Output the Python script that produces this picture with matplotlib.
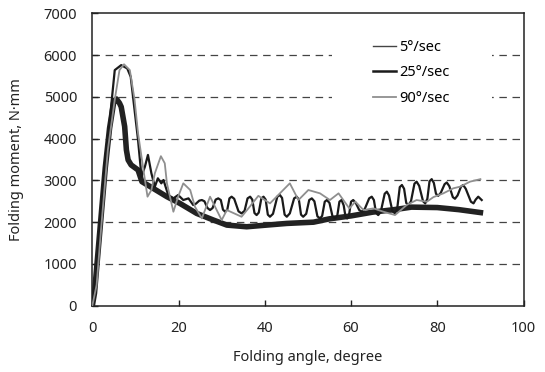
import matplotlib
matplotlib.use("Agg")
import matplotlib.pyplot as plt
from matplotlib.lines import Line2D
from matplotlib.patches import Rectangle

plt.rcParams['font.family'] = ['Noto Sans', 'DejaVu Sans']

# 5 deg/sec (noisy, drawn as a thick band)
x5 = [0, 0.5, 1, 2, 3, 4, 5, 5.6, 6.3, 6.7, 7.5, 7.9, 8.3, 9.0, 10.6, 11.5, 14.1, 17.3,
      20.3, 24.2, 28.1, 31.2, 35.8, 40.4, 45.1, 51.3, 55, 60, 65, 70, 74, 80, 85, 90]
y5 = [0, 300, 900, 2100, 3300, 4250, 4900, 4950, 4850, 4760, 4290, 3730, 3490, 3370, 3250, 2970, 2810, 2610,
      2450, 2210, 2050, 1930, 1890, 1930, 1970, 2000, 2080, 2150, 2240, 2300, 2360, 2350, 2300, 2230]

# 25 deg/sec
x25 = [0, 1, 2, 3, 4, 5.2, 6.7, 8.1, 8.9, 9.8, 10.6, 11.4, 12.2, 12.9, 13.7, 14.5, 15.2, 16.0, 16.5,
       17.6, 18.8, 19.9, 21.1, 22.3,
       23.4, 24.0, 24.8, 25.4, 26.0, 26.7, 27.3, 27.9, 28.6, 29.2, 29.8, 30.3, 30.8, 31.3, 31.8,
       32.3, 32.9, 33.9, 34.6, 35.3, 36.0, 36.6, 37.1, 37.6, 38.1, 38.6, 39.2, 39.7, 40.2, 40.7,
       41.2, 41.9, 42.9, 43.5, 44.0, 44.6, 45.1, 45.8, 46.8, 47.4, 47.9, 48.4, 48.9, 49.6, 50.3,
       50.9, 51.5, 52.2, 52.8, 53.3, 53.9, 54.4, 55.0, 55.7, 56.3, 56.8, 57.3, 57.8, 58.3, 58.7,
       59.1, 59.5, 60.0, 60.5, 61.1, 61.9, 62.5, 63.2, 64.2, 64.8, 65.3, 65.8, 66.3, 66.9, 67.8,
       68.3, 68.8, 69.6, 70.2, 70.7, 71.3, 71.8, 72.3, 72.8, 73.3, 73.9, 74.7, 75.2, 75.8, 76.7,
       77.2, 77.7, 78.2, 78.7, 79.2, 79.7, 80.2, 80.8, 81.7, 82.2, 82.8, 83.6, 84.1, 84.7, 85.5,
       86.0, 86.6, 87.8, 88.4, 88.9, 89.5, 90.3]
y25 = [0, 800, 2300, 3500, 4400, 5640, 5760, 5680, 5480, 4690, 3970, 3090, 3330, 3610, 3170, 2850, 3050, 2930, 3010,
       2650, 2570, 2650, 2530, 2570,
       2410, 2440, 2515, 2530, 2500, 2340, 2290, 2340, 2540, 2570, 2530, 2300, 2250, 2300, 2570,
       2610, 2560, 2260, 2210, 2270, 2570, 2610, 2540, 2220, 2170, 2230, 2570, 2610, 2540, 2180,
       2130, 2200, 2610, 2650, 2580, 2180, 2130, 2210, 2570, 2610, 2540, 2180, 2130, 2200, 2530,
       2570, 2500, 2140, 2090, 2150, 2490, 2530, 2460, 2140, 2090, 2150, 2490, 2530, 2400, 2140,
       2090, 2150, 2490, 2530, 2460, 2290, 2250, 2320, 2570, 2610, 2530, 2220, 2170, 2250, 2680,
       2730, 2640, 2260, 2210, 2320, 2840, 2890, 2800, 2460, 2410, 2500, 2920, 2970, 2870, 2500,
       2450, 2560, 2980, 3030, 2940, 2680, 2630, 2700, 2910, 2950, 2860, 2600, 2560, 2640, 2850,
       2890, 2800, 2490, 2450, 2540, 2610, 2530]

# 90 deg/sec
x90 = [0, 1, 2, 3.6, 5.2, 6.3, 7.35, 8.7, 9.8, 10.6, 11.4, 12.2, 12.8, 13.7, 14.5, 15.9, 16.8, 17.3,
       18.8, 19.9, 21.1, 22.7, 23.8, 25.4, 27.3, 30.0, 31.2, 34.6, 36.2, 38.5, 41.2, 43.5, 45.8, 47.8,
       50.1, 52.8, 55.1, 57.1, 59.6, 61.0, 62.9, 65.2, 67.5, 70.2, 72.9, 75.2, 77.6, 79.1, 81.4, 83.7,
       85.3, 87.6, 90.0]
y90 = [0, 500, 1800, 3730, 4930, 5640, 5780, 5640, 4930, 4130, 3570, 3010, 2610, 2770, 3170, 3580, 3410, 2930,
       2250, 2610, 2930, 2770, 2370, 2090, 2610, 2050, 2290, 2130, 2330, 2630, 2450, 2690, 2930, 2530,
       2770, 2690, 2530, 2690, 2330, 2490, 2290, 2330, 2250, 2170, 2410, 2530, 2490, 2600, 2690, 2810,
       2850, 2970, 3030]

labels = ['5°/sec', '25°/sec', '90°/sec']
xticks = [0, 20, 40, 60, 80, 100]
yticks = [0, 1000, 2000, 3000, 4000, 5000, 6000, 7000]

fig = plt.figure(figsize=(5.45, 3.72), dpi=100)
ax = fig.add_axes([0.1694, 0.1782, 0.7912, 0.786])

ax.plot(x5, y5, color='#222222', lw=4.0, solid_joinstyle='round', zorder=3)
ax.plot(x25, y25, color='#1a1a1a', lw=1.6, zorder=4)
ax.plot(x90, y90, color='#8f8f8f', lw=1.3, zorder=5)

ax.set_xlim(0, 100)
ax.set_ylim(0, 7000)
ax.set_xticks(xticks)
ax.set_yticks(yticks)
ax.tick_params(direction='in', length=4, width=1, labelsize=10.5, colors='#222222', pad=11)
for yv in yticks[1:-1]:
    ax.axhline(yv, linestyle=(0, (6, 4.5)), color='#444444', lw=0.9, zorder=1)
for s in ax.spines.values():
    s.set_linewidth(1.1)
    s.set_color('#222222')

# white box behind the legend hides the gridlines
ax.add_patch(Rectangle((0.556, 0.67), 0.371, 0.27, transform=ax.transAxes,
                       facecolor='white', edgecolor='none', zorder=1.5))
handles = [Line2D([], [], color='#444444', lw=1.0),
           Line2D([], [], color='#1a1a1a', lw=1.8),
           Line2D([], [], color='#8f8f8f', lw=1.3)]
ax.legend(handles, labels, loc='upper left', bbox_to_anchor=(0.652, 0.91), frameon=False,
          fontsize=10.5, handlelength=1.55, handletextpad=0.2, labelspacing=0.72,
          borderpad=0, borderaxespad=0)

ax.set_xlabel('Folding angle, degree', fontsize=10.5, color='#222222', labelpad=10)
ax.set_ylabel('Folding moment, N·mm', fontsize=10.5, color='#222222', labelpad=14)

fig.savefig('out.png', dpi=100)
